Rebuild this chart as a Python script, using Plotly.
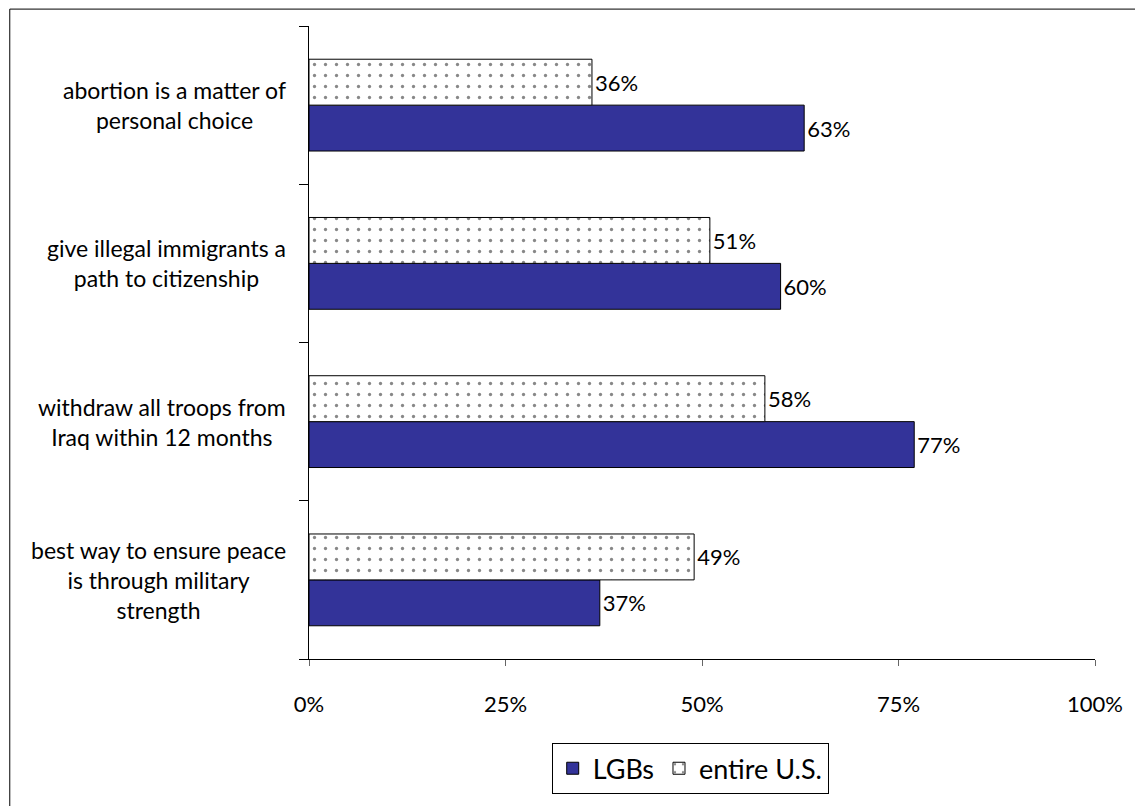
import plotly.graph_objects as go

# Statements, listed bottom-to-top as they sit on the category axis
statements = [
    "best way to ensure peace<br>is through military<br>strength",
    "withdraw all troops from<br>Iraq within 12 months",
    "give illegal immigrants a<br>path to citizenship",
    "abortion is a matter of<br>personal choice",
]
lgb_share = [0.37, 0.77, 0.60, 0.63]
us_share = [0.49, 0.58, 0.51, 0.36]
x_ticks = [0, 0.25, 0.5, 0.75, 1.0]
x_tick_labels = ["0%", "25%", "50%", "75%", "100%"]

FONT = "Lato, Open Sans, sans-serif"

fig = go.Figure()
fig.add_trace(go.Bar(
    name="LGBs",
    y=statements,
    x=lgb_share,
    orientation="h",
    marker=dict(color="#333399", line=dict(color="black", width=1)),
    text=[f"{v:.0%}" for v in lgb_share],
    textposition="outside",
    textfont=dict(size=22, color="black", family=FONT),
    cliponaxis=False,
))
fig.add_trace(go.Bar(
    name="entire U.S.",
    y=statements,
    x=us_share,
    orientation="h",
    marker=dict(
        color="white",
        line=dict(color="black", width=1),
        pattern=dict(shape=".", fgcolor="#111111", bgcolor="white", size=11, solidity=0.07),
    ),
    text=[f"{v:.0%}" for v in us_share],
    textposition="outside",
    textfont=dict(size=22, color="black", family=FONT),
    cliponaxis=False,
))

# Centered multi-line category labels to the left of the axis
for s in statements:
    fig.add_annotation(
        x=-0.027, xref="paper", y=s, yref="y",
        text=s, showarrow=False, xanchor="right", yanchor="middle",
        align="center", font=dict(size=23, color="black", family=FONT),
    )

# Outer frame around the whole chart
fig.add_shape(
    type="rect", xref="paper", yref="paper",
    x0=-0.3807, x1=1.06, y0=-0.24, y1=1.0267,
    line=dict(color="black", width=1), fillcolor="rgba(0,0,0,0)", layer="below",
)

fig.update_layout(
    width=1135, height=806,
    margin=dict(l=309, r=38, t=26, b=143),
    paper_bgcolor="white", plot_bgcolor="white",
    barmode="group", bargap=0.42, bargroupgap=0,
    font=dict(family=FONT, size=22, color="black"),
    showlegend=True,
    legend=dict(
        orientation="h", x=0.485, xanchor="center", y=-0.133, yanchor="top",
        font=dict(size=27, family=FONT, color="black"),
        bordercolor="black", borderwidth=1, traceorder="normal",
        itemwidth=30,
    ),
    xaxis=dict(
        range=[0, 1], tickvals=x_ticks, ticktext=x_tick_labels,
        showgrid=False, zeroline=False,
        showline=True, linecolor="black", linewidth=1,
        ticks="outside", ticklen=6, tickcolor="#666666",
        ticklabelstandoff=20,
        tickfont=dict(size=22, family=FONT, color="black"),
    ),
    yaxis=dict(
        categoryorder="array", categoryarray=statements,
        range=[-0.5, 3.5], showticklabels=False,
        showgrid=False, zeroline=False,
        showline=True, linecolor="black", linewidth=1,
        ticks="outside", ticklen=9, tickcolor="black", tickson="boundaries",
    ),
)

fig.write_html("out.html")
